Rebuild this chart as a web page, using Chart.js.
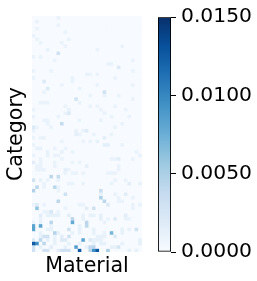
<!DOCTYPE html>
<html>
<head>
<meta charset="utf-8">
<script src="https://cdn.jsdelivr.net/npm/chart.js@4"></script>
<style>
  html, body { margin: 0; background: #fff; overflow: hidden; }
  #wrap { position: relative; width: 257px; height: 281px; }
  #heat { position: absolute; left: 0; top: 0; }
  #bar { position: absolute; left: 158px; top: 0; }
</style>
</head>
<body>
<div id="wrap">
  <canvas id="heat" width="142" height="281" style="width:142px;height:281px"></canvas>
  <canvas id="bar" width="99" height="281" style="width:99px;height:281px"></canvas>
</div>
<script>
const NCOLS = 31
const NROWS = 67
const colorTicks = [0, 0.005, 0.01, 0.015]
const vmax = 0.015
const blues = ['#f7fbff', '#deebf7', '#c6dbef', '#9ecae1', '#6baed6', '#4292c6', '#2171b5', '#08519c', '#08306b']

// row index -> [column, value, column, value, ...], blank cells are 0
const cells = {
  0: [7, .001],
  1: [1, .001],
  2: [7, .001],
  3: [1, .001],
  4: [9, .001],
  5: [0, .001],
  6: [1, .001, 10, .001],
  7: [2, .001, 8, .001],
  8: [9, .001, 25, .001],
  9: [4, .001, 18, .001],
  10: [7, .003],
  11: [0, .001, 2, .001],
  12: [6, .001, 28, .001],
  13: [21, .001, 22, .001],
  14: [24, .002],
  15: [0, .001, 5, .001, 28, .001],
  16: [15, .001, 16, .001, 18, .001],
  17: [0, .001, 11, .001, 23, .001],
  18: [3, .002, 11, .001],
  19: [8, .001, 18, .001, 28, .001],
  20: [4, .002, 13, .001],
  21: [3, .001, 20, .003],
  22: [16, .001, 20, .001, 24, .001],
  23: [12, .0028, 28, .001],
  24: [2, .001, 3, .001, 4, .001, 13, .001],
  25: [9, .001, 16, .001, 18, .001, 23, .001],
  26: [0, .001, 10, .0012, 19, .001, 26, .001],
  27: [9, .001, 10, .002, 20, .001],
  28: [0, .001, 7, .001, 22, .001, 27, .001],
  29: [3, .001, 4, .001, 13, .001, 19, .001],
  30: [4, .001, 8, .0038, 25, .001],
  31: [0, .002, 1, .001, 5, .001, 23, .001],
  32: [0, .001, 12, .001, 14, .001, 15, .0018],
  33: [12, .0014, 13, .001, 17, .001, 22, .001],
  34: [0, .001, 2, .001, 3, .001, 20, .0014],
  35: [8, .001, 14, .001, 16, .001, 18, .0012],
  36: [0, .001, 20, .0014, 21, .0014, 25, .001],
  37: [1, .0012, 2, .0012, 6, .001, 9, .001],
  38: [4, .0012, 8, .0012, 11, .001, 29, .001],
  39: [0, .001, 4, .0012, 6, .001, 7, .001, 30, .001],
  40: [2, .001, 8, .001, 22, .001, 23, .001, 24, .0016, 28, .001],
  41: [0, .0016, 2, .001, 6, .001, 11, .001, 13, .001],
  42: [1, .001, 2, .001, 6, .001, 15, .0014, 24, .001],
  43: [1, .001, 2, .001, 3, .001, 9, .0014, 10, .001, 24, .001],
  44: [9, .001, 11, .001, 12, .001, 14, .001, 21, .001, 22, .001, 23, .001],
  45: [5, .0042, 7, .0036],
  46: [0, .003, 2, .0012, 4, .001, 7, .001, 23, .001, 26, .001],
  47: [3, .001, 10, .001, 11, .001, 14, .001, 22, .001, 27, .0016, 30, .001],
  48: [1, .0042, 3, .001, 6, .0042, 7, .001],
  49: [0, .0048, 7, .001, 19, .0034],
  50: [9, .003, 19, .0012, 23, .001, 26, .0016],
  51: [19, .0048, 24, .001, 28, .001],
  52: [7, .0042, 20, .0042, 24, .001, 25, .001],
  53: [0, .001, 1, .0018, 3, .001, 13, .001, 14, .001, 21, .002, 28, .001, 30, .001],
  54: [1, .006, 9, .001, 15, .0016, 17, .003, 28, .001],
  55: [3, .001, 4, .001, 5, .0024, 7, .001],
  56: [2, .0016, 4, .0012, 5, .0012, 6, .0012, 7, .0012, 10, .0016, 14, .0012, 16, .0012, 17, .0012, 19, .0014, 26, .0016],
  57: [2, .001, 11, .0042, 14, .0012, 19, .0014, 21, .001, 23, .002, 26, .001, 27, .001],
  58: [0, .001, 2, .0012, 5, .0042, 11, .0078, 15, .0042, 20, .001],
  59: [0, .0082, 2, .0082, 5, .001, 13, .0012, 15, .0042],
  60: [0, .0082, 4, .0012, 5, .0012, 10, .003, 13, .0012, 17, .0012, 25, .0012, 27, .0012, 29, .003],
  61: [2, .0012, 6, .0046, 7, .0012, 11, .0012, 13, .0012, 17, .0012, 20, .001, 22, .007, 25, .0012],
  62: [2, .0012, 3, .003, 4, .003, 6, .001, 8, .0016, 10, .003, 18, .0012, 19, .0012, 20, .0012, 23, .002],
  63: [0, .002, 2, .0042, 4, .0012, 6, .0012, 8, .002, 9, .002, 14, .0082, 16, .002, 17, .0012, 18, .0012, 19, .0012, 30, .0012],
  64: [0, .0125, 1, .0095, 3, .0042, 6, .0012, 10, .0012, 13, .0012, 17, .0012, 19, .0012, 20, .0012, 25, .0012, 30, .0012],
  65: [0, .003, 2, .0012, 5, .0016, 9, .0012, 12, .0085, 15, .0012, 16, .004, 17, .0042, 22, .0012, 23, .0012, 24, .0026],
  66: [0, .003, 3, .003, 4, .003, 7, .0016, 8, .003, 9, .003, 10, .003, 13, .0125, 16, .0042, 17, .0095, 18, .0125, 21, .005, 27, .0012, 29, .0012]
}

const materials = Array.from({ length: NCOLS }, (_, i) => 'M' + i)
const matrix = Array.from({ length: NROWS }, () => new Array(NCOLS).fill(0))
Object.keys(cells).forEach(r => {
  const list = cells[r]
  for (let i = 0; i < list.length; i += 2) matrix[r][list[i]] = list[i + 1]
})

const hexRgb = h => [1, 3, 5].map(i => parseInt(h.substr(i, 2), 16))
const colorOf = v => {
  const t = Math.min(v / vmax, 1) * (blues.length - 1)
  const i = Math.min(Math.floor(t), blues.length - 2)
  const a = hexRgb(blues[i]), b = hexRgb(blues[i + 1])
  const f = t - i
  return 'rgb(' + a.map((c, k) => Math.round(c + (b[k] - c) * f)).join(',') + ')'
}

const tickFont = { family: '"DejaVu Sans"', size: 20.3 }
const titleFont = { family: '"DejaVu Sans"', size: 20.6 }

new Chart(document.getElementById('heat'), {
  type: 'bar',
  data: {
    labels: materials,
    // one stacked dataset per category row, each cell one unit tall
    datasets: matrix.map((row, r) => ({
      label: 'C' + r,
      data: row.map(() => 1),
      backgroundColor: row.map(colorOf),
      borderWidth: 0,
      barPercentage: 1,
      categoryPercentage: 1
    }))
  },
  options: {
    responsive: false,
    animation: false,
    layout: { padding: { top: 16, right: 0, bottom: 0, left: 0 } },
    plugins: { legend: { display: false }, tooltip: { enabled: false } },
    scales: {
      x: {
        stacked: true,
        grid: { display: false },
        border: { display: false },
        ticks: { display: false },
        title: { display: true, text: 'Material', color: '#000', font: titleFont, padding: { top: 0, bottom: 2 } },
        afterFit: s => { s.height = 29 }
      },
      y: {
        stacked: true,
        reverse: true,
        min: 0,
        max: NROWS,
        grid: { display: false },
        border: { display: false },
        ticks: { display: false },
        title: { display: true, text: 'Category', color: '#000', font: titleFont, padding: { top: 4, bottom: 0 } },
        afterFit: s => { s.width = 32 }
      }
    }
  }
})

new Chart(document.getElementById('bar'), {
  type: 'bar',
  data: {
    labels: ['scale'],
    datasets: [{
      data: [vmax],
      barPercentage: 1,
      categoryPercentage: 1,
      borderWidth: 1.2,
      borderColor: '#000',
      borderSkipped: false,
      backgroundColor: c => {
        const area = c.chart.chartArea
        if (!area) return blues[0]
        const g = c.chart.ctx.createLinearGradient(0, area.bottom, 0, area.top)
        blues.forEach((b, i) => g.addColorStop(i / (blues.length - 1), b))
        return g
      }
    }]
  },
  options: {
    responsive: false,
    animation: false,
    layout: { padding: { top: 16, right: 0, bottom: 29, left: 0 } },
    plugins: { legend: { display: false }, tooltip: { enabled: false } },
    scales: {
      x: { display: false },
      y: {
        position: 'right',
        min: 0,
        max: vmax,
        afterBuildTicks: s => { s.ticks = colorTicks.map(v => ({ value: v })) },
        afterFit: s => { s.width = 86 },
        border: { display: false },
        grid: { drawOnChartArea: false, drawTicks: true, tickLength: 5, tickColor: '#000', tickWidth: 1 },
        ticks: { color: '#000', font: tickFont, padding: 5, maxRotation: 0, callback: v => v.toFixed(4) }
      }
    }
  }
})
</script>
</body>
</html>
